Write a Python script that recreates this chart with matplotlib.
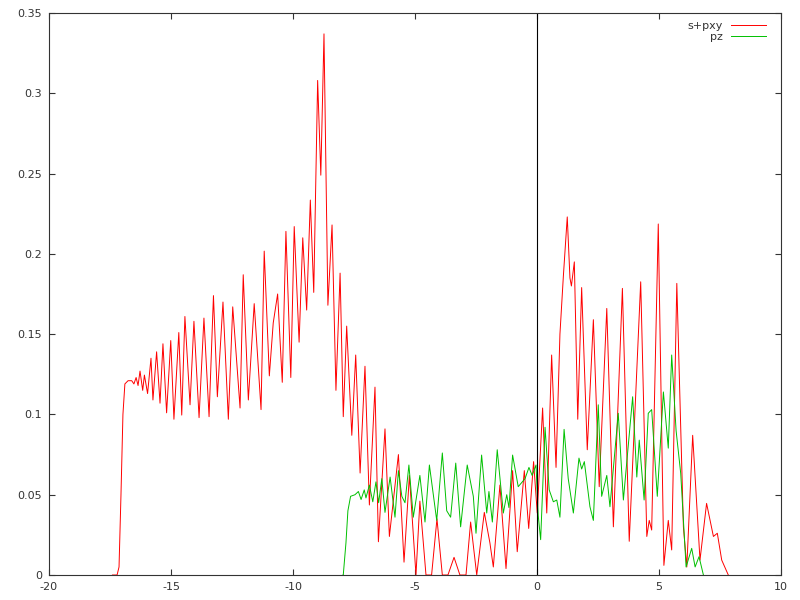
import matplotlib
matplotlib.use('Agg')
import matplotlib.pyplot as plt

# s+pxy curve (energy, value)
energy_spxy = [-17.40, -17.21, -17.13, -17.05, -16.97, -16.89, -16.76, -16.61, -16.52, -16.43,
               -16.35, -16.27, -16.16, -16.09, -15.96, -15.82, -15.74, -15.59, -15.45, -15.33,
               -15.18, -15.01, -14.88, -14.68, -14.56, -14.43, -14.22, -14.06, -13.85, -13.65,
               -13.44, -13.26, -13.10, -12.87, -12.65, -12.47, -12.17, -12.04, -11.83, -11.59,
               -11.31, -11.18, -10.97, -10.81, -10.63, -10.44, -10.29, -10.09, -9.95, -9.75,
               -9.60, -9.44, -9.29, -9.15, -8.99, -8.86, -8.73, -8.57, -8.40, -8.24,
               -8.07, -7.94, -7.80, -7.59, -7.43, -7.25, -7.05, -6.87, -6.64, -6.50,
               -6.23, -6.05, -5.68, -5.45, -5.23, -4.96, -4.80, -4.55, -4.32, -4.10,
               -3.88, -3.65, -3.40, -3.16, -2.91, -2.72, -2.47, -2.16, -1.93, -1.79,
               -1.52, -1.27, -1.00, -0.81, -0.52, -0.34, -0.14, 0.01, 0.23, 0.40,
               0.60, 0.78, 0.94, 1.08, 1.24, 1.35, 1.41, 1.53, 1.67, 1.83,
               2.06, 2.31, 2.55, 2.86, 3.13, 3.50, 3.78, 4.25, 4.50, 4.60,
               4.70, 4.97, 5.20, 5.38, 5.52, 5.73, 6.00, 6.14, 6.38, 6.68,
               6.95, 7.23, 7.39, 7.57, 7.84]
dos_spxy = [0.0, 0.0, 0.005, 0.05, 0.10, 0.119, 0.121, 0.121, 0.119, 0.123,
            0.118, 0.127, 0.115, 0.1245, 0.113, 0.135, 0.109, 0.139, 0.107, 0.144,
            0.101, 0.146, 0.097, 0.151, 0.0996, 0.161, 0.106, 0.158, 0.098, 0.160,
            0.0986, 0.174, 0.111, 0.170, 0.097, 0.167, 0.104, 0.187, 0.109, 0.169,
            0.103, 0.2017, 0.124, 0.157, 0.175, 0.120, 0.214, 0.123, 0.217, 0.145,
            0.210, 0.165, 0.2335, 0.176, 0.308, 0.249, 0.337, 0.168, 0.218, 0.115,
            0.188, 0.0986, 0.155, 0.087, 0.137, 0.0635, 0.130, 0.0436, 0.117, 0.0207,
            0.091, 0.024, 0.075, 0.008, 0.062, 0.0, 0.046, 0.0, 0.0, 0.035,
            0.0, 0.0, 0.011, 0.0, 0.0, 0.033, 0.0, 0.039, 0.020, 0.005,
            0.056, 0.004, 0.065, 0.0145, 0.065, 0.029, 0.0706, 0.0386, 0.104, 0.0386,
            0.137, 0.067, 0.150, 0.186, 0.223, 0.185, 0.180, 0.195, 0.097, 0.179,
            0.078, 0.159, 0.055, 0.166, 0.030, 0.1785, 0.021, 0.1826, 0.024, 0.034,
            0.028, 0.2186, 0.006, 0.034, 0.0156, 0.1816, 0.030, 0.005, 0.087, 0.0093,
            0.0446, 0.024, 0.026, 0.0093, 0.0]

# pz curve
energy_pz = [-7.95, -7.94, -7.83, -7.75, -7.64, -7.46, -7.32, -7.21, -7.08, -7.01,
             -6.87, -6.73, -6.60, -6.49, -6.36, -6.23, -6.02, -5.82, -5.68, -5.54,
             -5.41, -5.25, -5.07, -4.80, -4.59, -4.41, -4.11, -3.88, -3.70, -3.54,
             -3.33, -3.13, -2.86, -2.61, -2.50, -2.27, -2.06, -1.97, -1.83, -1.63,
             -1.38, -1.24, -1.15, -1.00, -0.77, -0.49, -0.33, -0.20, -0.04, 0.05,
             0.15, 0.33, 0.50, 0.67, 0.81, 0.94, 1.11, 1.28, 1.49, 1.72,
             1.83, 1.94, 2.17, 2.31, 2.51, 2.65, 2.86, 2.99, 3.33, 3.54,
             3.92, 4.09, 4.19, 4.39, 4.56, 4.70, 4.93, 5.18, 5.38, 5.52,
             5.70, 5.89, 6.11, 6.34, 6.48, 6.64, 6.82]
dos_pz = [0.0, 0.0, 0.02, 0.04, 0.049, 0.050, 0.052, 0.047, 0.053, 0.048,
          0.056, 0.0456, 0.058, 0.045, 0.060, 0.039, 0.061, 0.036, 0.065, 0.049,
          0.045, 0.0685, 0.036, 0.062, 0.033, 0.0685, 0.034, 0.076, 0.040, 0.036,
          0.0697, 0.030, 0.0685, 0.049, 0.026, 0.0747, 0.0386, 0.052, 0.033, 0.078,
          0.0386, 0.050, 0.042, 0.0747, 0.055, 0.060, 0.067, 0.062, 0.0685, 0.037,
          0.022, 0.092, 0.053, 0.0456, 0.0467, 0.036, 0.0907, 0.060, 0.0386, 0.0728,
          0.066, 0.0706, 0.0425, 0.034, 0.106, 0.049, 0.062, 0.0425, 0.1007, 0.0467,
          0.111, 0.061, 0.084, 0.0467, 0.1007, 0.103, 0.049, 0.114, 0.079, 0.137,
          0.090, 0.0633, 0.005, 0.0166, 0.005, 0.0114, 0.0]

x_ticks = [-20, -15, -10, -5, 0, 5, 10]
y_ticks = [0, 0.05, 0.1, 0.15, 0.2, 0.25, 0.3, 0.35]
y_labels = ['0', '0.05', '0.1', '0.15', '0.2', '0.25', '0.3', '0.35']

plt.rcParams['font.family'] = ['DejaVu Sans']
fig = plt.figure(figsize=(8, 6), dpi=100)
ax = fig.add_axes([49 / 800, 25 / 600, 732 / 800, 562 / 600])

ax.plot(energy_spxy, dos_spxy, color='#ff0000', lw=0.7, label='s+pxy')
ax.plot(energy_pz, dos_pz, color='#00c000', lw=0.7, label='pz')
ax.axvline(0, color='black', lw=0.8)

ax.set_xlim(-20, 10)
ax.set_ylim(0, 0.35)
ax.set_xticks(x_ticks)
ax.set_xticklabels([str(t) for t in x_ticks])
ax.set_yticks(y_ticks)
ax.set_yticklabels(y_labels)
ax.tick_params(direction='in', length=4.5, width=0.8, top=True, right=True,
               labelsize=8, labelcolor='#333333', color='#333333')
ax.tick_params(axis='x', pad=5)
ax.tick_params(axis='y', pad=5)
for s in ax.spines.values():
    s.set_color('#333333')
    s.set_linewidth(0.8)

# legend in the gnuplot style: label right aligned, sample line after it
leg = ax.legend(loc='upper right', bbox_to_anchor=(0.9855, 0.9934), borderaxespad=0,
                frameon=False, markerfirst=False, fontsize=8,
                handlelength=3.1, handletextpad=0.8, labelspacing=0.1)
for t in leg.get_texts():
    t.set_color('#333333')

fig.savefig('out.png', dpi=100)
